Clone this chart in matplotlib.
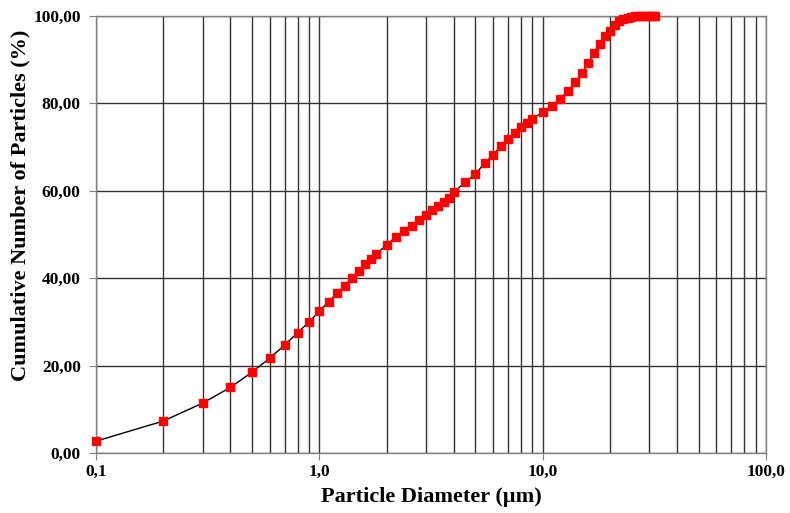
import matplotlib
matplotlib.use("Agg")
import matplotlib.pyplot as plt
from matplotlib.ticker import FixedLocator, FuncFormatter, NullFormatter

# Particle size distribution (cumulative number %)
diameter_um = [0.1, 0.2, 0.3, 0.4, 0.5, 0.6, 0.7, 0.8, 0.9, 1.0,
               1.1, 1.2, 1.3, 1.4, 1.5, 1.6, 1.7, 1.8, 2.0, 2.2,
               2.4, 2.6, 2.8, 3.0, 3.2, 3.4, 3.6, 3.8, 4.0, 4.5,
               5.0, 5.5, 6.0, 6.5, 7.0, 7.5, 8.0, 8.5, 9.0, 10.0,
               11.0, 12.0, 13.0, 14.0, 15.0, 16.0, 17.0, 18.0, 19.0, 20.0,
               21.0, 22.0, 23.0, 24.0, 25.0, 26.0, 27.0, 28.0, 29.0, 30.0,
               31.0, 32.0]
cumulative_pct = [2.7, 7.3, 11.4, 15.0, 18.5, 21.7, 24.7, 27.5, 30.0, 32.4,
                  34.6, 36.5, 38.3, 40.1, 41.7, 43.2, 44.4, 45.5, 47.6, 49.4,
                  50.8, 52.0, 53.3, 54.5, 55.5, 56.5, 57.5, 58.4, 59.6, 62.0,
                  63.8, 66.3, 68.2, 70.2, 71.8, 73.3, 74.5, 75.6, 76.5, 77.9,
                  79.4, 81.1, 82.8, 84.8, 86.9, 89.2, 91.6, 93.5, 95.3, 96.6,
                  98.0, 98.8, 99.3, 99.6, 99.85, 100.0, 100.0, 100.0, 100.0, 100.0,
                  100.0, 100.0]

x_major = [0.1, 1.0, 10.0, 100.0]
y_major = [0, 20, 40, 60, 80, 100]
x_label = "Particle Diameter (µm)"
y_label = "Cumulative Number of Particles (%)"

plt.rcParams["font.family"] = ["Liberation Serif", "DejaVu Serif"]
plt.rcParams["font.weight"] = "bold"

fig = plt.figure(figsize=(7.9, 5.13), dpi=100)
ax = fig.add_axes([0.1215, 0.117, 0.848, 0.852])

ax.set_xscale("log")
ax.set_xlim(0.1, 100)
ax.set_ylim(0, 100)

ax.xaxis.set_major_locator(FixedLocator(x_major))
ax.xaxis.set_minor_locator(FixedLocator(
    [m * d for d in (0.1, 1, 10) for m in range(2, 10)]))
ax.xaxis.set_minor_formatter(NullFormatter())
ax.xaxis.set_major_formatter(FuncFormatter(lambda v, p: f"{v:.1f}".replace(".", ",")))
ax.yaxis.set_major_locator(FixedLocator(y_major))
ax.yaxis.set_major_formatter(FuncFormatter(lambda v, p: f"{v:.2f}".replace(".", ",")))

grid_color = "#333333"
ax.grid(True, which="major", axis="both", color=grid_color, linewidth=1.0)
ax.grid(True, which="minor", axis="x", color=grid_color, linewidth=1.0)
ax.set_axisbelow(True)

for s in ax.spines.values():
    s.set_color("#808080")
    s.set_linewidth(1.0)

ax.tick_params(axis="both", which="major", direction="out", length=5,
               color="#808080", labelsize=12.5)
ax.tick_params(axis="x", which="major", pad=3)
ax.tick_params(axis="y", which="major", pad=6)
ax.tick_params(axis="x", which="minor", length=0)
for lab in ax.get_xticklabels() + ax.get_yticklabels():
    lab.set_fontweight("bold")

ax.plot(diameter_um, cumulative_pct, color="black", linewidth=1.0,
        marker="s", markersize=6, markerfacecolor="#ff0000",
        markeredgecolor="#ff0000", clip_on=False, zorder=3)

ax.set_xlabel(x_label, fontsize=16, fontweight="bold", labelpad=5)
ax.set_ylabel(y_label, fontsize=16, fontweight="bold")
ax.yaxis.set_label_coords(-0.098, 0.567)

fig.savefig("out.png", dpi=100)
